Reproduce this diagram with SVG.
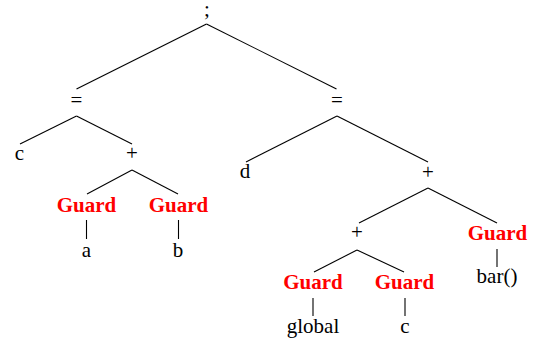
<svg xmlns="http://www.w3.org/2000/svg" width="536" height="341" viewBox="0 0 536 341">
<style>
.t{font-size:21px;text-anchor:middle;fill:#000}
.g{font-weight:bold;fill:#ff0000}
.e line{stroke:#000;stroke-width:1.1}
</style>
<rect width="536" height="341" fill="#fff"/>
<g class="e" id="edges">
<line x1="206.5" y1="24" x2="76.5" y2="89"/>
<line x1="206.5" y1="24" x2="336.5" y2="89"/>
<line x1="76.5" y1="116" x2="20" y2="144"/>
<line x1="76.5" y1="116" x2="132" y2="144"/>
<line x1="132" y1="170" x2="87" y2="194"/>
<line x1="132" y1="170" x2="178" y2="194"/>
<line x1="86.5" y1="220" x2="86.5" y2="239"/>
<line x1="178.5" y1="220" x2="178.5" y2="239"/>
<line x1="337" y1="116" x2="246" y2="162"/>
<line x1="337" y1="116" x2="428" y2="162"/>
<line x1="428" y1="188" x2="359" y2="223"/>
<line x1="428" y1="188" x2="497" y2="223"/>
<line x1="357" y1="250" x2="314" y2="272"/>
<line x1="357" y1="250" x2="404" y2="272"/>
<line x1="497" y1="249" x2="497" y2="267"/>
<line x1="313" y1="298" x2="313" y2="316"/>
<line x1="405" y1="298" x2="405" y2="316"/>
</g>
<g id="n_seq"><text class="t" font-family="'Liberation Serif', serif" x="207" y="16">;</text></g>
<g id="n_assign1"><text class="t" font-family="'Liberation Serif', serif" x="76.5" y="107">=</text></g>
<g id="n_assign2"><text class="t" font-family="'Liberation Serif', serif" x="337" y="107">=</text></g>
<g id="n_c1"><text class="t" font-family="'Liberation Serif', serif" x="19.5" y="160">c</text></g>
<g id="n_plus1"><text class="t" font-family="'Liberation Serif', serif" x="132" y="160">+</text></g>
<g id="n_d"><text class="t" font-family="'Liberation Serif', serif" x="245" y="178">d</text></g>
<g id="n_plus2"><text class="t" font-family="'Liberation Serif', serif" x="428" y="179">+</text></g>
<g id="n_guard_a"><text class="t g" font-family="'Liberation Serif', serif" x="86.5" y="212">Guard</text></g>
<g id="n_guard_b"><text class="t g" font-family="'Liberation Serif', serif" x="178.5" y="212">Guard</text></g>
<g id="n_a"><text class="t" font-family="'Liberation Serif', serif" x="86.5" y="257">a</text></g>
<g id="n_b"><text class="t" font-family="'Liberation Serif', serif" x="178" y="257">b</text></g>
<g id="n_plus3"><text class="t" font-family="'Liberation Serif', serif" x="357" y="239">+</text></g>
<g id="n_guard_bar"><text class="t g" font-family="'Liberation Serif', serif" x="497.5" y="240">Guard</text></g>
<g id="n_bar"><text class="t" font-family="'Liberation Serif', serif" x="497" y="283">bar()</text></g>
<g id="n_guard_global"><text class="t g" font-family="'Liberation Serif', serif" x="313" y="289">Guard</text></g>
<g id="n_guard_c"><text class="t g" font-family="'Liberation Serif', serif" x="404.5" y="289">Guard</text></g>
<g id="n_global"><text class="t" font-family="'Liberation Serif', serif" x="313" y="333">global</text></g>
<g id="n_c2"><text class="t" font-family="'Liberation Serif', serif" x="405" y="333">c</text></g>
</svg>
